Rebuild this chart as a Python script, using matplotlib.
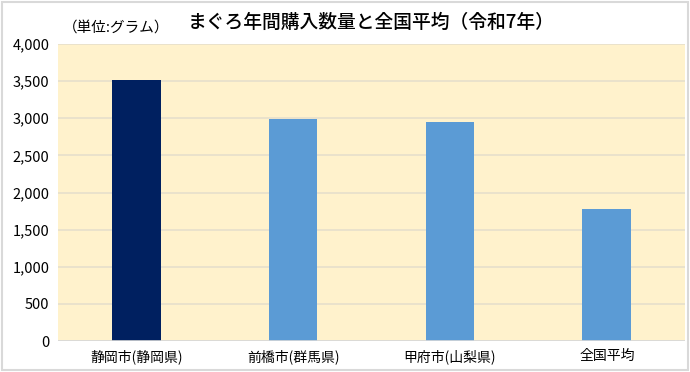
import matplotlib.pyplot as plt
from matplotlib.patches import FancyBboxPatch

plt.rcParams['font.family'] = ['Noto Sans CJK JP', 'DejaVu Sans']

categories = ['静岡市(静岡県)', '前橋市(群馬県)', '甲府市(山梨県)', '全国平均']
values = [3515, 2990, 2950, 1780]
colors = ['#002060', '#5B9BD5', '#5B9BD5', '#5B9BD5']

fig = plt.figure(figsize=(6.9, 3.72), dpi=100)
fig.patches.append(FancyBboxPatch((0.003, 0.005), 0.994, 0.99, boxstyle='square,pad=0',
                                  transform=fig.transFigure, facecolor='white',
                                  edgecolor='#D9D9D9', linewidth=1.5, zorder=-1))
ax = fig.add_axes([0.084, 0.083, 0.909, 0.799])
ax.set_facecolor('#FFF2CC')

x = range(len(categories))
ax.bar(x, values, width=0.31, color=colors, zorder=3)

ax.set_ylim(0, 4000)
ax.set_xlim(-0.5, 3.5)
ax.set_yticks(range(0, 4001, 500))
ax.set_yticklabels([f'{v:,}' for v in range(0, 4001, 500)], fontsize=10.5)
ax.set_xticks(list(x))
ax.set_xticklabels(categories, fontsize=10)
ax.tick_params(length=0, pad=6)
ax.grid(axis='y', color='#E6DFCB', linewidth=1.2, zorder=0)
for s in ax.spines.values():
    s.set_visible(False)
ax.axhline(0, color='#D9D9D9', linewidth=1.2, zorder=4)

fig.text(0.538, 0.94, 'まぐろ年間購入数量と全国平均（令和7年）', ha='center', va='center',
         fontsize=13.5, fontweight='medium')
fig.text(0.169, 0.925, '（単位:グラム）', ha='center', va='center', fontsize=10.5)

fig.savefig('out.png', dpi=100)
